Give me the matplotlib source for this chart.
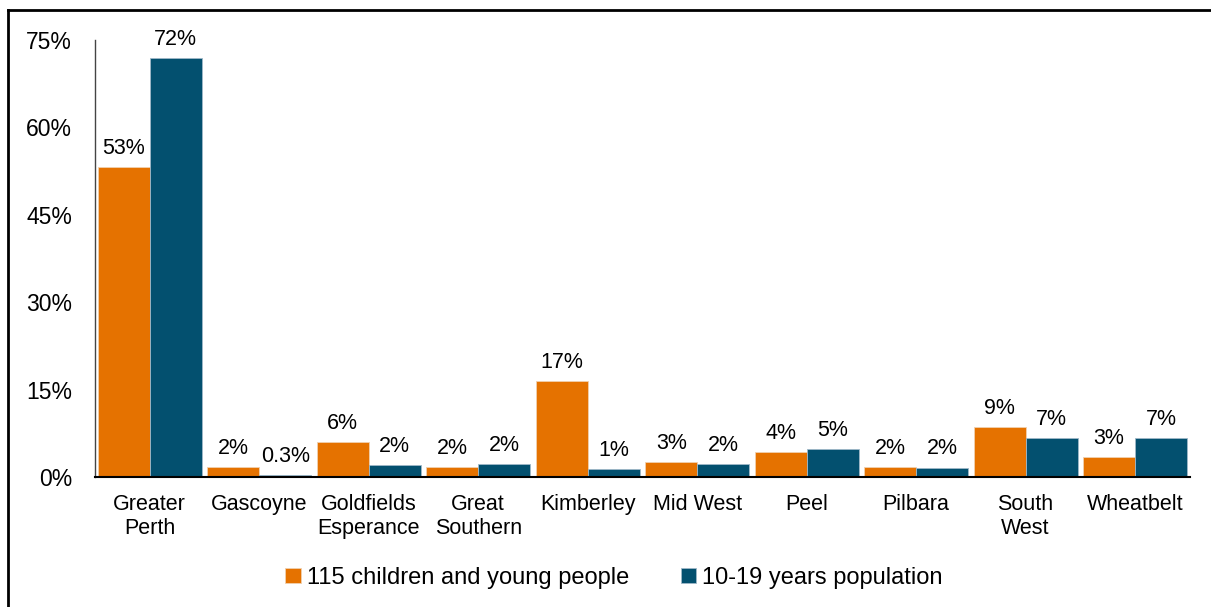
import matplotlib
matplotlib.use("Agg")
import matplotlib.pyplot as plt
import numpy as np
from matplotlib.lines import Line2D

plt.rcParams["font.family"] = ["Liberation Sans", "DejaVu Sans"]

regions = ["Greater\nPerth", "Gascoyne", "Goldfields\nEsperance", "Great\nSouthern",
           "Kimberley", "Mid West", "Peel", "Pilbara", "South\nWest", "Wheatbelt"]
children = [53.2, 1.7, 6.0, 1.7, 16.5, 2.6, 4.3, 1.7, 8.6, 3.4]
population = [71.9, 0.3, 2.1, 2.2, 1.4, 2.2, 4.8, 1.6, 6.7, 6.7]
children_labels = ["53%", "2%", "6%", "2%", "17%", "3%", "4%", "2%", "9%", "3%"]
population_labels = ["72%", "0.3%", "2%", "2%", "1%", "2%", "5%", "2%", "7%", "7%"]

orange = "#E57200"
blue = "#03506F"

fig = plt.figure(figsize=(12.11, 6.07), dpi=100)
ax = fig.add_axes([0.0785, 0.214, 0.904, 0.72])

x = np.arange(len(regions))
w = 0.475
b1 = ax.bar(x - w / 2, children, w, color=orange, edgecolor="#f0d0b0", linewidth=0.6,
            label="115 children and young people")
b2 = ax.bar(x + w / 2, population, w, color=blue, edgecolor="#a0b8c8", linewidth=0.6,
            label="10-19 years population")

for bars, labs in [(b1, children_labels), (b2, population_labels)]:
    for r, lab in zip(bars, labs):
        ax.annotate(lab, (r.get_x() + r.get_width() / 2, r.get_height()),
                    xytext=(0, 6), textcoords="offset points",
                    ha="center", va="bottom", fontsize=15.5)

ax.set_ylim(0, 75)
ax.set_xlim(-0.5, len(regions) - 0.5)
ax.set_yticks(np.arange(0, 76, 15))
ax.set_yticklabels([f"{v}%" for v in range(0, 76, 15)], fontsize=16.5)
ax.set_xticks(x)
ax.set_xticklabels(regions, fontsize=15.5)
ax.tick_params(axis="both", length=0)
ax.tick_params(axis="y", pad=16.5)
ax.tick_params(axis="x", pad=12)
for s in ["top", "right"]:
    ax.spines[s].set_visible(False)
ax.spines["left"].set_color("#444444")
ax.spines["left"].set_linewidth(1.0)
ax.spines["bottom"].set_linewidth(1.5)

leg = fig.legend(handles=[b1, b2], loc="center", bbox_to_anchor=(0.507, 0.048), ncol=2,
                 frameon=False, fontsize=17, handlelength=0.65, handleheight=0.65,
                 handletextpad=0.25, columnspacing=2.2)

# outer border, only top and left visible
fig.add_artist(Line2D([0.0066, 0.0066], [0, 0.984], transform=fig.transFigure, color="black", lw=2))
fig.add_artist(Line2D([0.0066, 1.0], [0.984, 0.984], transform=fig.transFigure, color="black", lw=2))

fig.savefig("out.png", dpi=100)
